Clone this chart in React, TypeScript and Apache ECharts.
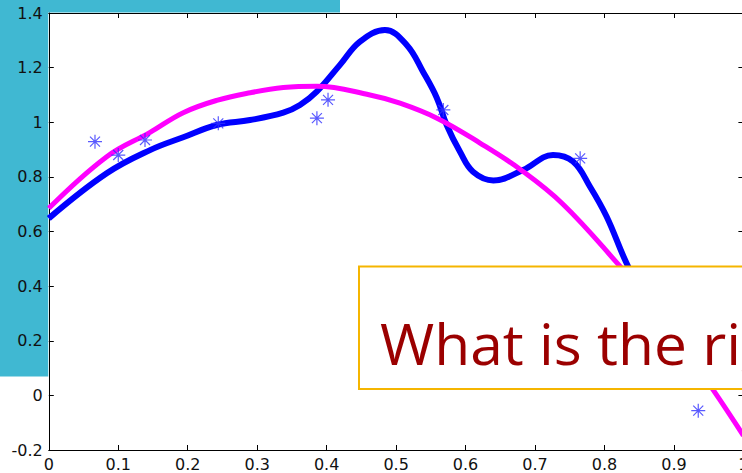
import React, { useEffect, useRef } from 'react';
import * as echarts from 'echarts';

// Blue curve (flexible fit)
const blueX = [0, 0.0834, 0.1458, 0.1935, 0.2417, 0.2897, 0.3376, 0.3616, 0.3857, 0.4192, 0.448, 0.484, 0.5153, 0.5387, 0.5585, 0.5728, 0.592, 0.6107, 0.64, 0.6827, 0.7259, 0.7547, 0.7792, 0.8032, 0.832, 0.87, 0.92, 1.0];
const blueY = [0.648, 0.813, 0.898, 0.945, 0.99, 1.008, 1.035, 1.063, 1.112, 1.21, 1.295, 1.338, 1.283, 1.185, 1.09, 0.99, 0.892, 0.819, 0.787, 0.825, 0.88, 0.856, 0.764, 0.654, 0.483, 0.3, 0.18, 0.12];

// Magenta curve (smooth low-order fit)
const magentaX = [0, 0.0834, 0.1458, 0.1935, 0.2417, 0.2897, 0.3376, 0.3857, 0.4624, 0.5056, 0.5589, 0.6208, 0.6784, 0.7403, 0.818, 0.88, 0.9567, 1.0];
const magentaY = [0.685, 0.874, 0.963, 1.035, 1.08, 1.108, 1.127, 1.132, 1.1, 1.07, 1.015, 0.924, 0.828, 0.7, 0.485, 0.3, 0.019, -0.147];

// Data points (stars)
const starX = [0.0665, 0.1, 0.1385, 0.244, 0.386, 0.402, 0.568, 0.765, 0.935];
const starY = [0.929, 0.88, 0.935, 0.996, 1.015, 1.082, 1.045, 0.868, -0.056];

const xTickStep = 0.1;
const yTickStep = 0.2;
const titleText = 'What is the right model?';

const STAR = 'path://M7,0L7,14M0,7L14,7M2,2L12,12M2,12L12,2';

export default function App() {
  const ref = useRef<HTMLDivElement>(null);
  useEffect(() => {
    if (!ref.current) return;
    const chart = echarts.init(ref.current, null, { renderer: 'svg' });
    const fmt = (v: number) => String(Math.round(v * 10) / 10);
    const labelStyle = { color: '#111', fontFamily: 'DejaVu Sans', fontSize: 16 };
    const axisLine = { show: true, onZero: false, lineStyle: { color: '#000', width: 1 } };
    const tick = { show: true, inside: true, length: 5, lineStyle: { color: '#000' } };
    chart.setOption({
      animation: false,
      backgroundColor: '#fff',
      grid: { left: 48.8, width: 694.6, top: 13, bottom: 23, show: true, backgroundColor: '#fff', borderWidth: 0,
        outerBoundsMode: 'none', containLabel: false },
      xAxis: [
        { type: 'value', position: 'bottom', min: 0, max: 1, interval: xTickStep, axisLine, axisTick: tick, splitLine: { show: false },
          axisLabel: { ...labelStyle, margin: 6, formatter: fmt, showMinLabel: true, showMaxLabel: true } },
        { type: 'value', position: 'top', min: 0, max: 1, interval: xTickStep, axisLine, axisTick: tick, splitLine: { show: false }, axisLabel: { show: false } },
      ],
      yAxis: [
        { type: 'value', position: 'left', min: -0.2, max: 1.4, interval: yTickStep, axisLine, axisTick: tick, splitLine: { show: false },
          axisLabel: { ...labelStyle, margin: 6, formatter: fmt, showMinLabel: true, showMaxLabel: true } },
        { type: 'value', position: 'right', min: -0.2, max: 1.4, interval: yTickStep, axisLine, axisTick: tick, splitLine: { show: false }, axisLabel: { show: false } },
      ],
      series: [
        { type: 'line', data: blueX.map((x, i) => [x, blueY[i]]), smooth: 0.4, showSymbol: false,
          lineStyle: { color: '#0000ff', width: 6 }, z: 3 },
        { type: 'line', data: magentaX.map((x, i) => [x, magentaY[i]]), smooth: 0.4, showSymbol: false,
          lineStyle: { color: '#ff00ff', width: 5 }, z: 4 },
        { type: 'scatter', data: starX.map((x, i) => [x, starY[i]]), symbol: STAR, symbolSize: 14,
          itemStyle: { color: 'rgba(0,0,0,0)', borderColor: '#2f2fff', borderWidth: 1.2 }, z: 5 },
      ],
      graphic: [
        { type: 'rect', z: -10, shape: { x: 0, y: 0, width: 340, height: 12.5 }, style: { fill: '#40b8d2' }, silent: true },
        { type: 'rect', z: -10, shape: { x: 0, y: 0, width: 48.3, height: 376.5 }, style: { fill: '#40b8d2' }, silent: true },
        { type: 'rect', z: 100, shape: { x: 359, y: 266.5, width: 400, height: 122.5 }, style: { fill: '#fff', stroke: '#f5b500', lineWidth: 2 } },
        { type: 'text', z: 101, x: 380, y: 343, scaleX: 1.03, style: { text: titleText, fill: '#9b0000', fontFamily: 'Open Sans', fontSize: 57, textVerticalAlign: 'middle', verticalAlign: 'middle' } },
      ],
    });
    return () => chart.dispose();
  }, []);
  return <div ref={ref} style={{ position: 'fixed', left: 0, top: 0, width: 742, height: 473, background: '#fff' }} />;
}
